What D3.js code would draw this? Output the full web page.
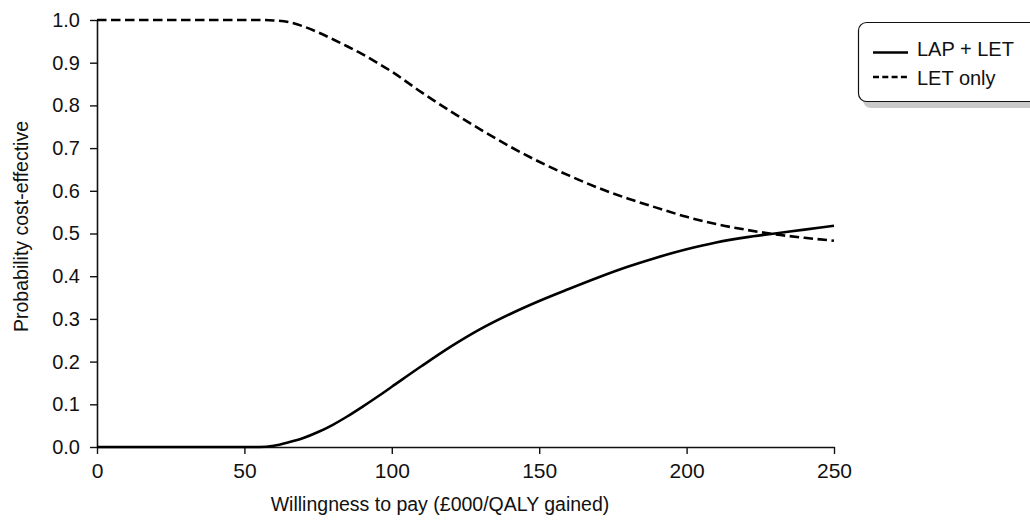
<!DOCTYPE html>
<html>
<head>
<meta charset="utf-8">
<script src="https://cdn.jsdelivr.net/npm/d3@7"></script>
<style>
  html, body { margin: 0; padding: 0; background: #fff; }
  svg { display: block; }
  text { font-family: "Liberation Sans", Arial, Helvetica, sans-serif; fill: #111; }
</style>
</head>
<body>
<svg id="chart" width="1030" height="523"></svg>
<script>
// Willingness-to-pay thresholds (£000 per QALY gained)
const wtp = [0, 10, 20, 30, 40, 50, 55, 60, 65, 70, 75, 80, 85, 90, 95, 100,
             110, 120, 130, 140, 150, 160, 170, 180, 190, 200, 210, 220, 230, 240, 250];

// Probability that each strategy is cost-effective
const lapLet = [0, 0, 0, 0, 0, 0, 0, 0.003, 0.011, 0.021, 0.035, 0.052, 0.072, 0.094, 0.117, 0.141,
                0.189, 0.235, 0.276, 0.311, 0.342, 0.370, 0.397, 0.422, 0.444, 0.463, 0.479, 0.491, 0.500, 0.509, 0.518];
const letOnly = [1, 1, 1, 1, 1, 1, 1, 0.999, 0.995, 0.985, 0.971, 0.955, 0.938, 0.920, 0.900, 0.879,
                 0.831, 0.786, 0.744, 0.704, 0.668, 0.636, 0.607, 0.582, 0.560, 0.539, 0.522, 0.509, 0.498, 0.490, 0.483];

const seriesNames = ["LAP + LET", "LET only"];
const xTicks = [0, 50, 100, 150, 200, 250];
const yTicks = [0, 0.1, 0.2, 0.3, 0.4, 0.5, 0.6, 0.7, 0.8, 0.9, 1.0];
const xTitle = "Willingness to pay (£000/QALY gained)";
const yTitle = "Probability cost-effective";

const svg = d3.select("#chart");
const x = d3.scaleLinear().domain([0, 250]).range([97, 834]);
const y = d3.scaleLinear().domain([0, 1]).range([447, 20]);

// Axes
const xAxis = svg.append("g")
  .attr("transform", `translate(0,${y(0)})`)
  .call(d3.axisBottom(x).tickValues(xTicks).tickSize(7).tickSizeOuter(0).tickPadding(9)
        .tickFormat(d3.format("d")));
const yAxis = svg.append("g")
  .attr("transform", `translate(${x(0)},0)`)
  .call(d3.axisLeft(y).tickValues(yTicks).tickSize(7).tickSizeOuter(0).tickPadding(10)
        .tickFormat(d3.format(".1f")));

[xAxis, yAxis].forEach(g => {
  g.select(".domain").attr("stroke", "#111").attr("stroke-width", 1.6);
  g.selectAll(".tick line").attr("stroke", "#111").attr("stroke-width", 1.4);
  g.selectAll(".tick text").attr("fill", "#111")
    .style("font-family", "'Liberation Sans', Arial, sans-serif");
});
xAxis.selectAll(".tick text").style("font-size", "21px");
yAxis.selectAll(".tick text").style("font-size", "20px");

// Axis titles
svg.append("text")
  .attr("x", 440).attr("y", 511)
  .attr("text-anchor", "middle")
  .style("font-size", "19.5px")
  .text(xTitle);
svg.append("text")
  .attr("transform", `translate(28,${(y(0) + y(1)) / 2 - 7}) rotate(-90)`)
  .attr("text-anchor", "middle")
  .style("font-size", "19.5px")
  .text(yTitle);

// Curves
const rows = [lapLet, letOnly];
const dashes = [null, "9.5,4.5"];
const line = d3.line()
  .x((d, i) => x(wtp[i]))
  .y(d => y(d))
  .curve(d3.curveMonotoneX);

rows.forEach((vals, k) => {
  svg.append("path")
    .datum(vals)
    .attr("d", line)
    .attr("fill", "none")
    .attr("stroke", "#000")
    .attr("stroke-width", 2.6)
    .attr("stroke-dasharray", dashes[k]);
});

// Legend with drop shadow
const lg = svg.append("g");
lg.append("rect")
  .attr("x", 863).attr("y", 28).attr("width", 200).attr("height", 80)
  .attr("rx", 8).attr("fill", "#c9c9c9");
lg.append("rect")
  .attr("x", 858.5).attr("y", 22.5).attr("width", 200).attr("height", 79)
  .attr("rx", 8).attr("fill", "#fff").attr("stroke", "#111").attr("stroke-width", 1.2);

const legendRows = [
  { name: seriesNames[0], dash: null, lineY: 52.5, textY: 56 },
  { name: seriesNames[1], dash: "6,3.3", lineY: 77, textY: 84.5 }
];
legendRows.forEach(r => {
  lg.append("line")
    .attr("x1", 873).attr("x2", 908)
    .attr("y1", r.lineY).attr("y2", r.lineY)
    .attr("stroke", "#000").attr("stroke-width", 2.4)
    .attr("stroke-dasharray", r.dash);
  lg.append("text")
    .attr("x", 917).attr("y", r.textY)
    .style("font-size", "20px")
    .text(r.name);
});
</script>
</body>
</html>
